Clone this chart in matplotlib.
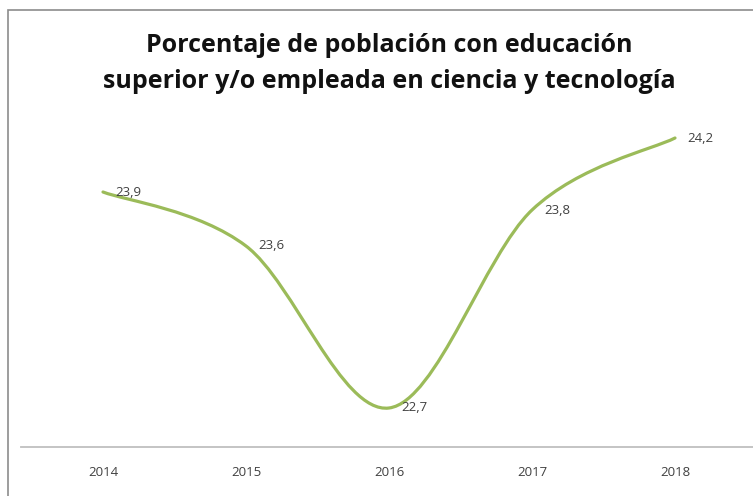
import matplotlib.pyplot as plt
import numpy as np
from matplotlib.patches import Rectangle
from matplotlib.path import Path
from matplotlib.patches import PathPatch

# Datos del gráfico
years = ["2014", "2015", "2016", "2017", "2018"]
values = [23.9, 23.6, 22.7, 23.8, 24.2]
labels = ["23,9", "23,6", "22,7", "23,8", "24,2"]

LINE_COLOR = "#9BBB59"
TEXT_COLOR = "#404040"

W, H = 753, 496
fig = plt.figure(figsize=(W / 100, H / 100), dpi=100)

# Marco del gráfico (se sale por la derecha y abajo)
fig.patches.append(Rectangle((8 / W, -0.1), 1.2, (H - 10) / H + 0.1,
                             transform=fig.transFigure, fill=False,
                             edgecolor="#8C8C8C", linewidth=1.2))

# Área de trazado
ax = fig.add_axes([21 / W, 49 / H, 1 - 21 / W, (447 - 110) / H])
x = np.arange(len(years))
ax.set_xlim((21 - 103) / 143, (753 - 103) / 143)
ax.set_ylim(23.9 - 255 / 180, 23.9 + 82 / 180)

# Línea suavizada tipo Excel (Bezier cúbica por los puntos)
pts = np.column_stack([x, values])
verts = [tuple(pts[0])]
codes = [Path.MOVETO]
for i in range(len(pts) - 1):
    p0 = pts[max(i - 1, 0)]
    p1 = pts[i]
    p2 = pts[i + 1]
    p3 = pts[min(i + 2, len(pts) - 1)]
    c1 = p1 + (p2 - p0) / 6
    c2 = p2 - (p3 - p1) / 6
    verts += [tuple(c1), tuple(c2), tuple(p2)]
    codes += [Path.CURVE4] * 3
ax.add_patch(PathPatch(Path(verts, codes), fill=False, edgecolor=LINE_COLOR,
                       linewidth=2.3, capstyle="round"))

for xi, v, lab in zip(x, values, labels):
    ax.annotate(lab, (xi, v), xytext=(9, 0), textcoords="offset points",
                ha="left", va="center", fontsize=9.5, color=TEXT_COLOR,
                family="Open Sans")

ax.set_xticks(x)
ax.set_xticklabels(years, fontsize=9.5, color=TEXT_COLOR, family="Open Sans")
ax.tick_params(axis="x", length=0, pad=14)
ax.set_yticks([])
for side in ["left", "right", "top"]:
    ax.spines[side].set_visible(False)
ax.spines["bottom"].set_color("#BFBFBF")
ax.spines["bottom"].set_linewidth(1.3)
ax.patch.set_visible(False)

fig.text(389 / W, 1 - 45 / H, "Porcentaje de población con educación",
         ha="center", va="center", fontsize=18, fontweight="bold",
         family="Open Sans", color="#111111")
fig.text(389 / W, 1 - 81 / H, "superior y/o empleada en ciencia y tecnología",
         ha="center", va="center", fontsize=18, fontweight="bold",
         family="Open Sans", color="#111111")

fig.savefig("out.png", dpi=100)
